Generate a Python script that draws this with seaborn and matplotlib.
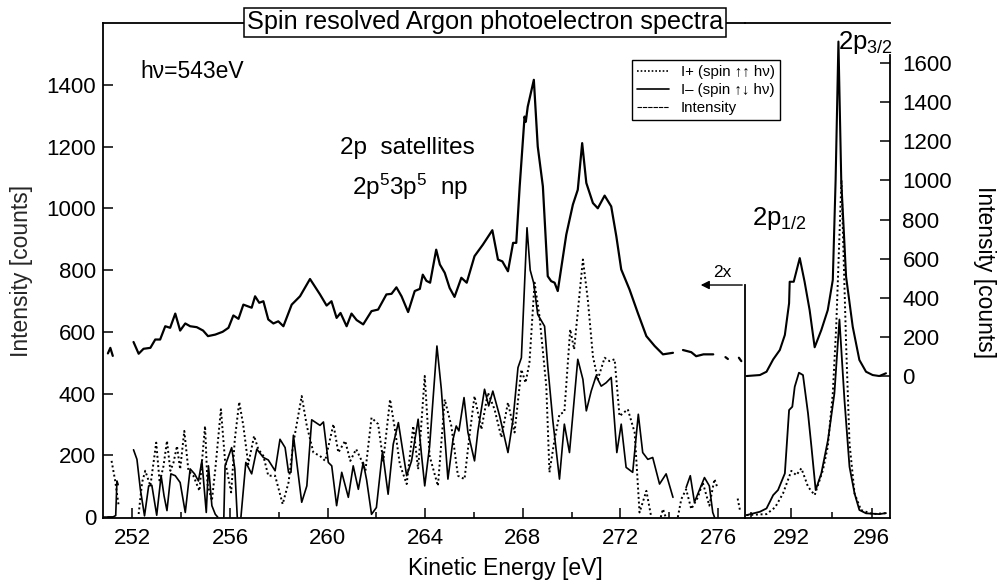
import numpy as np
import pandas as pd
import matplotlib
matplotlib.use("Agg")
import matplotlib.pyplot as plt
from matplotlib.lines import Line2D
from matplotlib.ticker import MultipleLocator
import seaborn as sns

nan = np.nan

# Satellite region (left panel), kinetic energy [eV] and counts; nan marks a gap in the trace
sat_int_ev = [251.0, 251.1, 251.2, nan,
              252.05, 252.26, 252.46, 252.74, 252.94, 253.14, 253.35, 253.55, 253.76, 253.96,
              254.17, 254.37, 254.64, 254.9, 255.1, 255.4, 255.7, 255.94, 256.14, 256.35,
              256.55, 256.89, 257.03, 257.2, 257.37, 257.57, 257.78, 257.98, 258.19, 258.53,
              258.87, 259.28, 259.69, 259.96, 260.16, 260.37, 260.53, 260.78, 260.98, 261.19,
              261.46, 261.8, 262.07, 262.41, 262.62, 262.82, 263.03, 263.3, 263.57, 263.78,
              263.9, 264.05, 264.2, 264.45, 264.6, 264.8, 265.0, 265.2, 265.48, 265.7,
              266.02, 266.36, 266.75, 266.98, 267.16, 267.39, 267.6, 267.73, 267.87, 268.07,
              268.12, 268.2, 268.45, 268.61, 268.82, 269.02, 269.16, 269.3, 269.43, 269.78,
              270.05, 270.25, 270.43, 270.6, 270.87, 271.07, 271.35, 271.62, 271.83, 272.03,
              272.37, 272.71, 273.06, 273.4, 273.74, 274.15, nan,
              274.56, 274.9, 275.1, 275.4, 275.8, nan, 276.3, 276.4, nan, 276.85, 276.95]
sat_int = [530, 548, 522, nan,
           567, 529, 545, 548, 575, 575, 618, 613, 659, 604,
           627, 618, 615, 604, 586, 591, 600, 613, 653, 642,
           688, 678, 715, 694, 699, 640, 627, 634, 618, 688,
           715, 771, 721, 685, 699, 645, 661, 618, 659, 638,
           624, 667, 672, 721, 723, 744, 715, 664, 732, 739,
           785, 765, 759, 866, 818, 791, 742, 713, 775, 759,
           845, 882, 929, 834, 828, 796, 888, 888, 1071, 1297,
           1280, 1329, 1416, 1200, 1071, 780, 764, 759, 732, 915,
           1012, 1060, 1211, 1082, 1017, 1000, 1041, 1006, 909, 802,
           737, 661, 586, 554, 527, 532, nan,
           541, 534, 521, 527, 527, nan, 518, 512, nan, 516, 505]

sat_minus_ev = [251.0, 251.2, 251.32, 251.37, 251.42, nan,
                252.05, 252.19, 252.33, 252.5, 252.67, 252.8, 253.0, 253.18, 253.3, 253.42,
                253.58, 253.76, 253.96, 254.17, 254.37, 254.55, 254.71, 254.85, 255.03, 255.12,
                255.26, 255.4, 255.5, nan, 255.75, 255.8, 256.07, 256.2, 256.3, nan,
                256.45, 256.65, 256.89, 257.1, 257.37, 257.57, 257.85, 258.05, 258.26, 258.4,
                258.5, 258.6, 258.94, 259.15, 259.35, 259.69, 259.83, 260.03, 260.17, 260.37,
                260.58, 260.85, 261.05, 261.26, 261.46, 261.6, 261.8, 262.0, 262.25, 262.48,
                262.69, 262.9, 263.24, 263.44, 263.71, 263.85, 263.98, 264.18, 264.48, 264.66,
                264.93, 265.14, 265.27, 265.38, 265.59, 265.75, 266.02, 266.16, 266.43, 266.6,
                266.77, 267.05, 267.39, 267.6, 267.8, 267.94, 268.17, 268.3, 268.44, 268.61,
                268.89, 269.02, 269.23, 269.5, 269.7, 269.91, 270.25, 270.46, 270.6, 270.8,
                271.0, 271.21, 271.41, 271.62, 271.85, 272.03, 272.23, 272.5, 272.73, 272.91,
                273.12, 273.32, 273.6, 273.87, 274.15, nan,
                274.69, 274.86, 275.03, 275.44, 275.64, 275.78, 275.85]
sat_minus = [0, 0, 5, 117, 105, nan,
             218, 187, 90, 4, 101, 103, 6, 134, 69, 21,
             140, 134, 112, 15, 156, 140, 117, 182, 15, 166,
             37, 9, 0, nan, 0, 166, 225, 156, 0, nan,
             0, 177, 140, 220, 193, 185, 150, 252, 225, 145,
             145, 265, 48, 101, 315, 297, 308, 177, 166, 37,
             145, 64, 166, 90, 177, 120, 9, 31, 212, 74,
             236, 306, 134, 182, 317, 200, 101, 230, 554, 414,
             123, 252, 295, 279, 387, 274, 182, 279, 414, 360,
             408, 327, 209, 317, 484, 516, 937, 800, 759, 656,
             618, 489, 311, 123, 301, 209, 511, 446, 344, 408,
             457, 424, 435, 452, 209, 301, 161, 145, 333, 209,
             187, 193, 107, 140, 64, nan,
             96, 134, 48, 128, 101, 15, 0]

sat_plus_ev = [251.15, 251.3, 251.44, nan,
               252.26, 252.4, 252.53, 252.74, 252.98, 253.12, 253.28, 253.42, 253.56, 253.69,
               253.83, 253.96, 254.13, 254.3, 254.5, 254.75, 254.98, 255.08, 255.26, 255.4,
               255.63, 255.8, 256.05, 256.2, 256.38, 256.55, 256.75, 256.99, 257.16, 257.37,
               257.57, 257.85, 258.16, 258.4, 258.6, 258.94, 259.15, 259.42, 259.69, 259.9,
               260.24, 260.44, 260.72, 260.93, 261.17, 261.4, 261.55, 261.8, 262.07, 262.28,
               262.56, 262.76, 262.96, 263.24, 263.51, 263.71, 263.98, 264.18, 264.52, 264.8,
               265.07, 265.34, 265.61, 265.82, 266.02, 266.3, 266.57, 266.84, 267.12, 267.39,
               267.66, 267.94, 268.11, 268.27, 268.48, 268.68, 268.96, 269.09, 269.3, 269.5,
               269.7, 269.94, 270.1, 270.46, 270.66, 270.87, 271.07, 271.35, 271.55, 271.76,
               271.96, 272.3, 272.58, 272.78, 273.06, 273.26, nan,
               273.65, 273.74, 273.85, nan,
               274.35, 274.49, 274.69, 274.9, 275.17, 275.37, 275.64, 275.85, 275.95, nan,
               276.8, 276.9]
sat_plus = [182, 117, 37, nan,
            10, 112, 150, 101, 241, 112, 166, 247, 150, 177,
            230, 155, 279, 150, 134, 85, 295, 107, 53, 155,
            349, 182, 80, 252, 373, 295, 171, 263, 220, 198,
            134, 134, 42, 112, 241, 392, 295, 209, 198, 182,
            301, 209, 247, 182, 220, 182, 150, 322, 301, 182,
            381, 284, 171, 107, 295, 155, 457, 198, 101, 381,
            295, 134, 123, 268, 392, 284, 403, 349, 258, 371,
            274, 478, 435, 500, 759, 651, 424, 145, 252, 333,
            340, 608, 543, 834, 705, 521, 446, 516, 505, 511,
            327, 349, 274, 15, 85, 0, nan,
            0, 26, 0, nan,
            0, 58, 90, 26, 64, 112, 37, 123, 100, nan,
            60, 20]

# Main lines (right panel), counts on the right-hand axis
main_ev = [289.78, 290.44, 290.77, 291.1, 291.43, 291.68, 291.89, 291.92, 292.12, 292.42,
           292.66, 292.91, 293.16, 293.49, 293.81, 294.06, 294.2, 294.34, 294.48, 294.72,
           295.05, 295.38, 295.71, 296.04, 296.37, 296.7]
main_int = [0, 5, 22, 85, 133, 210, 372, 482, 482, 603,
            482, 337, 147, 235, 337, 491, 1000, 1710, 1000, 508,
            252, 82, 22, 5, 0, 14]

main_minus_ev = [289.78, 290.44, 290.77, 291.1, 291.34, 291.68, 291.89, 292.05, 292.17, 292.38,
                 292.58, 292.83, 293.0, 293.21, 293.49, 293.82, 294.14, 294.39, 294.64, 294.89,
                 295.14, 295.38, 295.71, 296.37, 296.7]
main_minus = [0, 17, 34, 102, 128, 213, 537, 554, 656, 728,
              716, 520, 349, 128, 213, 383, 622, 1000, 588, 247,
              111, 26, 9, 5, 10]

main_plus_ev = [289.78, 290.77, 291.2, 291.59, 292.0, 292.25, 292.5, 292.83, 293.16, 293.57,
                293.81, 294.06, 294.23, 294.49, 294.72, 294.89, 295.14, 295.46, 296.04, 296.7]
main_plus = [0, 5, 40, 111, 226, 204, 239, 145, 102, 230,
             349, 622, 963, 1713, 878, 367, 111, 26, 5, 10]

LOWER_BASE = -711  # baseline of the spin-resolved traces on the right-hand scale


def to_frame(ev, val, shift=0):
    df = pd.DataFrame({"ev": ev, "val": val})
    df["seg"] = df["val"].isna().cumsum()
    df = df.dropna()
    df["val"] = df["val"] + shift
    return df


sns.set_theme(style="ticks", rc={
    "axes.linewidth": 1.3,
    "xtick.direction": "in",
    "ytick.direction": "in",
    "xtick.major.size": 7,
    "ytick.major.size": 7,
    "xtick.minor.size": 4,
    "xtick.major.width": 1.1,
    "ytick.major.width": 1.1,
    "xtick.minor.width": 1.1,
    "axes.edgecolor": "black",
    "text.color": "black",
    "xtick.color": "black",
    "ytick.color": "black",
})
plt.rcParams["font.family"] = ["Liberation Sans", "DejaVu Sans"]
plt.rcParams["mathtext.fontset"] = "custom"
plt.rcParams["mathtext.rm"] = "Liberation Sans"
plt.rcParams["mathtext.it"] = "Liberation Sans"

fig = plt.figure(figsize=(10.07, 5.85), dpi=100)
ax = fig.add_axes([0.1023, 0.1145, 0.6375, 0.8462])
ax2 = fig.add_axes([0.7398, 0.1145, 0.1440, 0.8462])

dotted = (0, (1, 1.4))
line_kw = dict(estimator=None, sort=False, units="seg", color="black", legend=False)

# left panel: satellites
sns.lineplot(data=to_frame(sat_int_ev, sat_int), x="ev", y="val", ax=ax, lw=1.6, **line_kw)
sns.lineplot(data=to_frame(sat_minus_ev, sat_minus), x="ev", y="val", ax=ax, lw=1.2, **line_kw)
sns.lineplot(data=to_frame(sat_plus_ev, sat_plus), x="ev", y="val", ax=ax, lw=1.4,
             linestyle=dotted, **line_kw)

# right panel: 2p main lines
sns.lineplot(data=to_frame(main_ev, main_int), x="ev", y="val", ax=ax2, lw=1.5, **line_kw)
sns.lineplot(data=to_frame(main_minus_ev, main_minus, LOWER_BASE), x="ev", y="val", ax=ax2,
             lw=1.3, **line_kw)
sns.lineplot(data=to_frame(main_plus_ev, main_plus, LOWER_BASE), x="ev", y="val", ax=ax2,
             lw=1.4, linestyle=dotted, **line_kw)

# axes setup
ax.set_xlim(250.8, 277.1)
ax.set_ylim(-3, 1600)
ax.xaxis.set_major_locator(MultipleLocator(4))
ax.xaxis.set_minor_locator(MultipleLocator(2))
ax.set_yticks(range(0, 1401, 200))
ax.spines["right"].set_visible(False)
ax.tick_params(labelsize=16, pad=5)
ax.tick_params(axis="x", pad=7)
ax.set_xlabel("")
ax.set_ylabel("Intensity [counts]", fontsize=16.5, labelpad=10)

ax2.set_xlim(289.7, 296.9)
ax2.set_ylim(-726, 1805)
ax2.set_xticks([292, 296])
ax2.xaxis.set_minor_locator(MultipleLocator(2))
ax2.yaxis.tick_right()
ax2.set_yticks(range(0, 1601, 200))
ax2.tick_params(axis="y", left=False, right=True, labelleft=False, labelright=True,
                labelsize=16, pad=9)
ax2.tick_params(axis="x", labelsize=16, pad=7)
ax2.spines["left"].set_bounds(-726, 465)
ax2.spines["right"].set_bounds(-726, 1640)
ax2.set_xlabel("")
ax2.set_ylabel("")
ax2.patch.set_alpha(0)

fig.text(0.978, 0.535, "Intensity [counts]", rotation=270, fontsize=16.5,
         ha="center", va="center")
fig.text(0.5015, 0.029, "Kinetic Energy [eV]", fontsize=16.5, ha="center", va="center")

# title box on the top frame line
fig.text(0.4816, 0.962, "Spin resolved Argon photoelectron spectra", fontsize=18.2,
         ha="center", va="center",
         bbox=dict(boxstyle="square,pad=0.1", fc="white", ec="black", lw=1.1))

# annotations
ax.text(0.0576, 0.901, "h\u03bd=543eV", transform=ax.transAxes, fontsize=16.5, va="center")
ax.text(0.369, 0.747, "2p  satellites", transform=ax.transAxes, fontsize=17.5, va="center")
ax.text(0.388, 0.669, r"2p$^{5}$3p$^{5}$  np", transform=ax.transAxes, fontsize=17.5,
        va="center")
fig.text(0.7468, 0.627, r"2p$_{1/2}$", fontsize=18.5, va="center")
fig.text(0.832, 0.928, r"2p$_{3/2}$", fontsize=18.5, va="center")
fig.text(0.717, 0.535, "2x", fontsize=12.5, ha="center", va="center")
fig.add_artist(matplotlib.patches.FancyArrowPatch(
    (0.7398, 0.5128), (0.6931, 0.5128), transform=fig.transFigure,
    arrowstyle="-|>,head_length=5,head_width=2.5", lw=1.0, color="black"))

handles = [Line2D([], [], color="black", lw=1.2, linestyle=(0, (1, 1.2))),
           Line2D([], [], color="black", lw=1.2),
           Line2D([], [], color="black", lw=0.8, linestyle=(0, (4, 0.8)))]
labels = ["I+ (spin \u2191\u2191 h\u03bd)", "I\u2013 (spin \u2191\u2193 h\u03bd)", "Intensity"]
leg = fig.legend(handles, labels, loc="upper left", bbox_to_anchor=(0.6276, 0.8974),
                 fontsize=10.8, frameon=True, fancybox=False, edgecolor="black",
                 framealpha=1, handlelength=2.1, handletextpad=0.8, labelspacing=0.25,
                 borderpad=0.35, borderaxespad=0)
leg.get_frame().set_linewidth(1.0)

fig.savefig("out.png", dpi=100)
